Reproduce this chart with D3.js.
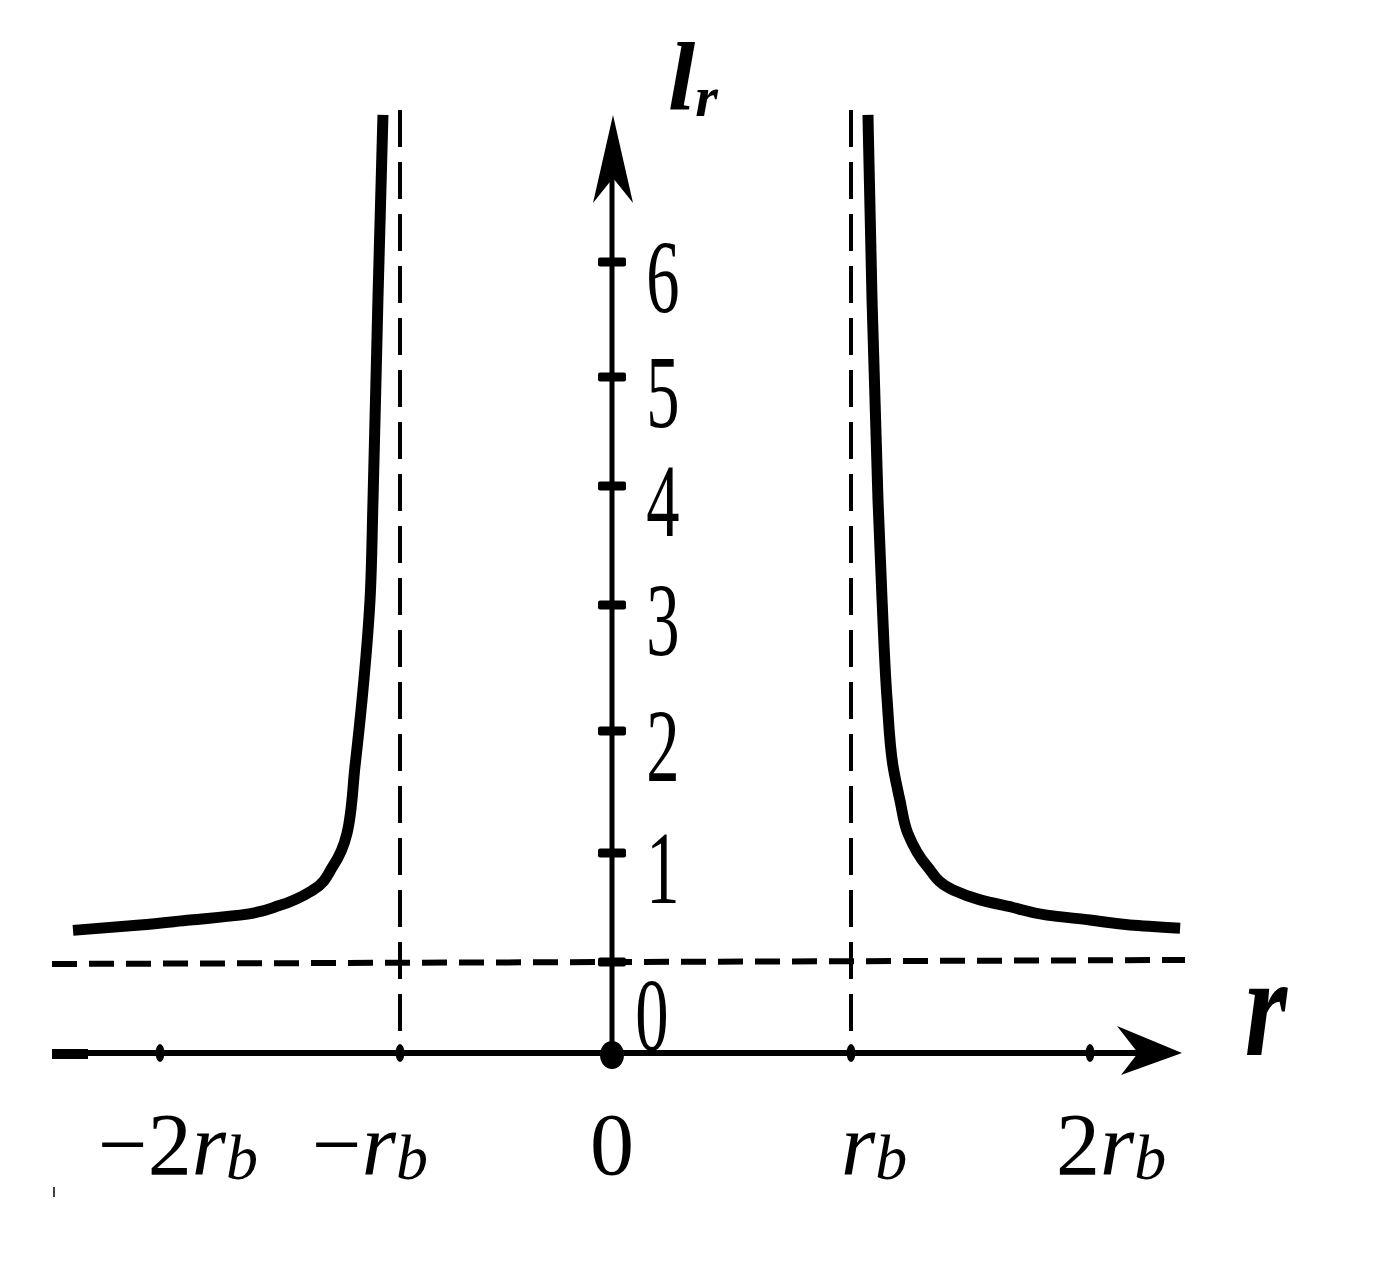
<!DOCTYPE html>
<html>
<head>
<meta charset="utf-8">
<script src="https://cdn.jsdelivr.net/npm/d3@7"></script>
<style>
  html, body { margin: 0; padding: 0; background: #fff; }
  svg { display: block; }
</style>
</head>
<body>
<svg id="chart" width="1390" height="1277"></svg>
<script>
// ---- data ----
const rTicks = [-2, -1, 0, 1, 2];
const rTickLabels = ["−2r_b", "−r_b", "0", "r_b", "2r_b"];
const lTicks = [0, 1, 2, 3, 4, 5, 6];
const lTickLabels = ["0", "1", "2", "3", "4", "5", "6"];
const asymptoteR = [-1, 1];
const asymptoteL = 0;
// right branch (r in units of r_b, l_r)
const rightR = [1.071, 1.088, 1.113, 1.130, 1.151, 1.176, 1.205, 1.238, 1.318, 1.427, 1.540, 1.678, 1.820, 2.000, 2.167, 2.377];
const rightL = [7.28, 5.67, 3.88, 3.04, 2.25, 1.71, 1.43, 1.16, 0.88, 0.66, 0.57, 0.50, 0.43, 0.385, 0.34, 0.31];
// left branch
const leftR = [-1.071, -1.092, -1.1125, -1.125, -1.158, -1.1875, -1.221, -1.279, -1.3625, -1.500, -1.667, -1.875, -2.083, -2.3625];
const leftL = [7.28, 5.67, 3.88, 3.04, 2.25, 1.71, 1.16, 0.88, 0.66, 0.52, 0.43, 0.385, 0.34, 0.29];

// pick an installed serif font
function pickSerif() {
  const cands = ["Liberation Serif", "Times New Roman", "Tinos", "DejaVu Serif", "Noto Serif", "FreeSerif", "Nimbus Roman"];
  const c = document.createElement("canvas").getContext("2d");
  const s = "mmmmmmmmmwwwwwlliI0123456789";
  function w(f) { c.font = "72px " + f; return c.measureText(s).width; }
  const base1 = w("monospace"), base2 = w("sans-serif");
  for (const f of cands) {
    if (w(`'${f}', monospace`) !== base1 || w(`'${f}', sans-serif`) !== base2) return `'${f}', serif`;
  }
  return "serif";
}
const SERIF = pickSerif();

// ---- scales ----
const svg = d3.select("#chart");
svg.append("rect").attr("width", 1390).attr("height", 1277).attr("fill", "#fff");

const x = d3.scaleLinear().domain(rTicks).range([160, 400, 612, 851, 1090]);
const y = d3.scaleLinear().domain(lTicks).range([962, 853, 731, 605, 486, 377, 262]);

const axisY = 1053;
const topY = 112;
const x0 = x(0);

// ---- dashed asymptotes ----
svg.selectAll(".vasym").data(asymptoteR).enter().append("line")
  .attr("x1", d => x(d)).attr("x2", d => x(d))
  .attr("y1", topY - 2).attr("y2", axisY)
  .attr("stroke", "#000").attr("stroke-width", 4)
  .attr("stroke-dasharray", "37 15");

svg.append("line")
  .attr("x1", 52).attr("x2", 1185)
  .attr("y1", y(asymptoteL) + 2).attr("y2", y(asymptoteL) - 2)
  .attr("stroke", "#000").attr("stroke-width", 6)
  .attr("stroke-dasharray", "25 12");

// ---- x axis ----
svg.append("line")
  .attr("x1", 52).attr("x2", 1150).attr("y1", axisY).attr("y2", axisY)
  .attr("stroke", "#000").attr("stroke-width", 6);
svg.append("line")
  .attr("x1", 52).attr("x2", 88).attr("y1", axisY + 1).attr("y2", axisY + 1)
  .attr("stroke", "#000").attr("stroke-width", 10);
svg.append("path")
  .attr("d", `M1182,${axisY} L1117,${axisY - 27} L1138,${axisY} L1121,${axisY + 22} Z`)
  .attr("fill", "#000");

svg.selectAll(".xtick").data(rTicks.filter(d => d !== 0)).enter().append("ellipse")
  .attr("cx", d => x(d)).attr("cy", axisY).attr("rx", 4.5).attr("ry", 9)
  .attr("fill", "#000");

// ---- y axis ----
svg.append("line")
  .attr("x1", x0).attr("x2", x0).attr("y1", axisY).attr("y2", 170)
  .attr("stroke", "#000").attr("stroke-width", 5);
svg.append("path")
  .attr("d", `M${x0 + 1},115 L${x0 - 19},203 L${x0 + 1},178 L${x0 + 21},203 Z`)
  .attr("fill", "#000");

svg.selectAll(".ytick").data(lTicks).enter().append("rect")
  .attr("x", x0 - 14).attr("y", d => y(d) - 4.5)
  .attr("width", 28).attr("height", 9).attr("rx", 2)
  .attr("fill", "#000");

// origin dot
svg.append("ellipse").attr("cx", x0).attr("cy", axisY + 2).attr("rx", 12).attr("ry", 14).attr("fill", "#000");

// ---- curves ----
const line = d3.line().x(d => x(d[0])).y(d => y(d[1])).curve(d3.curveMonotoneY);
svg.append("path").datum(rightR.map((r, i) => [r, rightL[i]]))
  .attr("d", line).attr("fill", "none").attr("stroke", "#000").attr("stroke-width", 11);
svg.append("path").datum(leftR.map((r, i) => [r, leftL[i]]))
  .attr("d", line).attr("fill", "none").attr("stroke", "#000").attr("stroke-width", 11);

// ---- y tick labels ----
lTicks.forEach((v, i) => {
  const ly = v === 0 ? axisY - 3 : y(v) + 50;
  const lx = v === 0 ? x0 + 40 : x0 + 51;
  svg.append("text")
    .attr("transform", `translate(${lx},${ly}) scale(0.64,1)`)
    .attr("text-anchor", "middle")
    .attr("font-family", SERIF)
    .attr("font-size", 104)
    .text(lTickLabels[i]);
});

// ---- x tick labels ----
const labelShift = { "-2": 18, "-1": -30, "0": 0, "1": 23, "2": 21 };
rTicks.forEach((v, i) => {
  const lab = rTickLabels[i];
  const t = svg.append("text")
    .attr("x", x(v) + labelShift[String(v)])
    .attr("y", 1174)
    .attr("text-anchor", "middle")
    .attr("font-family", SERIF)
    .attr("font-size", 88);
  if (lab.includes("r_b")) {
    const coef = lab.split("r_b")[0];
    if (coef) t.append("tspan").text(coef);
    t.append("tspan").attr("font-style", "italic").text("r");
    t.append("tspan").attr("font-style", "italic").attr("font-size", 64).attr("dy", 5).text("b");
  } else {
    t.text(lab);
  }
});

// ---- axis titles ----
const lt = svg.append("text")
  .attr("x", 668).attr("y", 110)
  .attr("font-family", SERIF)
  .attr("font-size", 98).attr("font-weight", "bold").attr("font-style", "italic");
lt.append("tspan").text("l");
lt.append("tspan").attr("font-size", 58).attr("dy", 6).text("r");

svg.append("text")
  .attr("transform", "translate(1266,1055) scale(0.75,1)")
  .attr("text-anchor", "middle")
  .attr("font-family", SERIF)
  .attr("font-size", 145).attr("font-weight", "bold").attr("font-style", "italic")
  .text("r");

// small mark bottom-left
svg.append("line").attr("x1", 54).attr("x2", 54).attr("y1", 1187).attr("y2", 1197)
  .attr("stroke", "#000").attr("stroke-width", 1.5);
</script>
</body>
</html>
